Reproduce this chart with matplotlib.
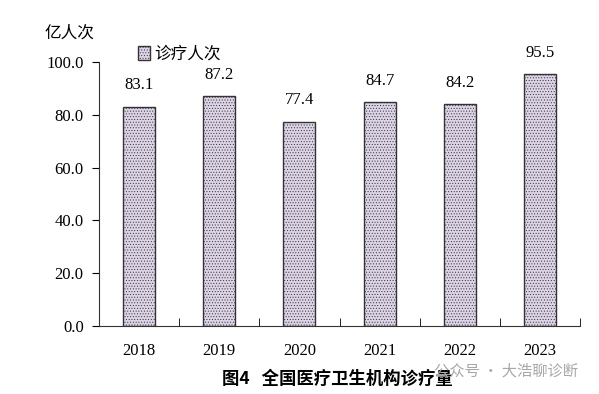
import numpy as np
import matplotlib.pyplot as plt

plt.rcParams['font.family'] = ['Liberation Serif', 'Noto Sans CJK SC']
plt.rcParams['hatch.color'] = '#bfb4cf'
plt.rcParams['hatch.linewidth'] = 0.4

years = ['2018', '2019', '2020', '2021', '2022', '2023']
visits = [83.1, 87.2, 77.4, 84.7, 84.2, 95.5]

fig = plt.figure(figsize=(5.99, 3.94), dpi=100)
ax = fig.add_axes([0.1653, 0.1726, 0.803, 0.67])

x = np.arange(len(years))
bars = ax.bar(x, visits, width=0.4, color='#dcd4e6', edgecolor='#333333',
              linewidth=1.0, hatch='......', label='诊疗人次')

# 数值标签
for xi, v in zip(x, visits):
    ax.text(xi, v + 5, f'{v:.1f}', ha='center', va='bottom', fontsize=12)

ax.set_xlim(-0.5, len(years) - 0.5)
ax.set_ylim(0, 100)
ax.set_yticks(np.arange(0, 101, 20))
ax.set_yticklabels([f'{t:.1f}' for t in np.arange(0, 101, 20)], fontsize=12)
ax.set_xticks(x)
ax.set_xticklabels(years, fontsize=12)
ax.tick_params(axis='x', length=0, pad=12)
ax.tick_params(axis='y', direction='out', length=5, pad=6)
ax.set_xticks(np.arange(-0.5, len(years)), minor=True)
ax.tick_params(axis='x', which='minor', direction='in', length=6)

for s in ['top', 'right']:
    ax.spines[s].set_visible(False)
for s in ['left', 'bottom']:
    ax.spines[s].set_color('#333333')

ax.legend(loc='upper left', bbox_to_anchor=(0.05, 1.12), frameon=False,
          handlelength=0.7, handleheight=0.9, handletextpad=0.3,
          prop={'family': 'Noto Sans CJK SC', 'size': 12})

fig.text(0.075, 0.905, '亿人次', fontsize=12, family='Noto Sans CJK SC')
fig.text(0.37, 0.025, '图4   全国医疗卫生机构诊疗量', fontsize=12.5,
         family='Noto Sans CJK SC', fontweight='bold')
fig.text(0.725, 0.048, '公众号 · 大浩聊诊断', fontsize=11,
         family='Noto Sans CJK SC', color='#a8a8a8')

fig.savefig('out.png', dpi=100)
